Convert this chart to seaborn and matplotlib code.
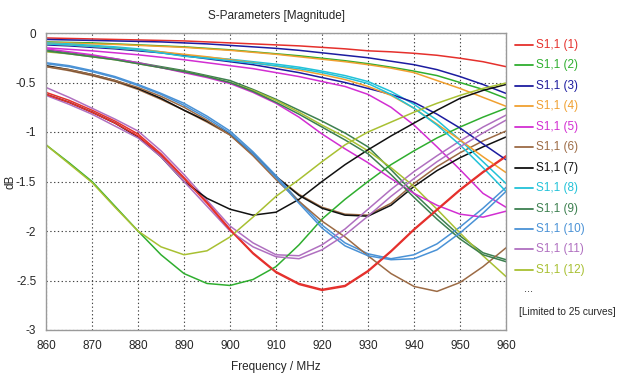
import pandas as pd
import matplotlib
matplotlib.use("Agg")
import matplotlib.pyplot as plt
from matplotlib.lines import Line2D
import seaborn as sns

# frequency grid (MHz), every 5 MHz
freq = [860, 865, 870, 875, 880, 885, 890, 895, 900, 905, 910,
        915, 920, 925, 930, 935, 940, 945, 950, 955, 960]

# |S11| in dB, one list per curve (legend order)
c01 = [-0.05, -0.055, -0.06, -0.065, -0.07, -0.075, -0.08, -0.09, -0.10, -0.11, -0.12,
       -0.13, -0.145, -0.16, -0.18, -0.19, -0.205, -0.225, -0.255, -0.29, -0.34]
c02 = [-0.09, -0.095, -0.10, -0.11, -0.12, -0.13, -0.14, -0.155, -0.17, -0.19, -0.21,
       -0.23, -0.255, -0.28, -0.31, -0.345, -0.385, -0.43, -0.50, -0.57, -0.66]
c03 = [-0.065, -0.07, -0.075, -0.08, -0.085, -0.09, -0.10, -0.11, -0.125, -0.14, -0.155,
       -0.175, -0.20, -0.225, -0.25, -0.285, -0.32, -0.37, -0.44, -0.52, -0.61]
c04 = [-0.095, -0.10, -0.11, -0.115, -0.125, -0.135, -0.145, -0.16, -0.175, -0.195, -0.215,
       -0.24, -0.265, -0.29, -0.32, -0.355, -0.40, -0.48, -0.56, -0.65, -0.74]
c05 = [-0.15, -0.165, -0.18, -0.20, -0.22, -0.245, -0.27, -0.30, -0.33, -0.36, -0.40,
       -0.44, -0.49, -0.54, -0.62, -0.75, -0.93, -1.15, -1.38, -1.62, -1.76]
c06 = [-0.34, -0.38, -0.43, -0.49, -0.57, -0.67, -0.78, -0.90, -1.03, -1.23, -1.45,
       -1.63, -1.76, -1.83, -1.84, -1.72, -1.52, -1.35, -1.21, -1.09, -0.99]
c07 = [-0.33, -0.37, -0.42, -0.48, -0.56, -0.66, -0.78, -0.89, -1.02, -1.22, -1.45,
       -1.64, -1.77, -1.84, -1.85, -1.74, -1.55, -1.39, -1.26, -1.15, -1.05]
c08 = [-0.10, -0.11, -0.125, -0.14, -0.16, -0.19, -0.225, -0.245, -0.265, -0.29, -0.315,
       -0.345, -0.385, -0.43, -0.49, -0.59, -0.72, -0.88, -1.08, -1.30, -1.52]
c09 = [-0.17, -0.20, -0.23, -0.26, -0.30, -0.34, -0.38, -0.43, -0.48, -0.57, -0.67,
       -0.78, -0.89, -1.01, -1.15, -1.38, -1.62, -1.84, -2.05, -2.22, -2.29]
c10 = [-0.30, -0.33, -0.38, -0.44, -0.52, -0.61, -0.71, -0.84, -0.99, -1.20, -1.44,
       -1.70, -1.94, -2.12, -2.23, -2.28, -2.24, -2.13, -1.96, -1.77, -1.56]
c11 = [-0.55, -0.65, -0.76, -0.87, -0.99, -1.19, -1.43, -1.69, -1.95, -2.12, -2.24,
       -2.25, -2.14, -1.98, -1.78, -1.58, -1.40, -1.24, -1.09, -0.95, -0.83]
c12 = [-0.19, -0.21, -0.24, -0.27, -0.31, -0.35, -0.39, -0.44, -0.50, -0.58, -0.68,
       -0.80, -0.93, -1.05, -1.19, -1.36, -1.55, -1.78, -2.02, -2.25, -2.46]
c13 = [-0.60, -0.68, -0.78, -0.89, -1.02, -1.22, -1.46, -1.71, -1.98, -2.22, -2.41,
       -2.53, -2.59, -2.55, -2.40, -2.20, -1.98, -1.78, -1.58, -1.40, -1.24]
c14 = [-1.13, -1.31, -1.50, -1.75, -2.00, -2.24, -2.43, -2.53, -2.55, -2.49, -2.36,
       -2.14, -1.88, -1.68, -1.50, -1.33, -1.19, -1.06, -0.95, -0.85, -0.76]
c15 = [-0.12, -0.13, -0.145, -0.16, -0.18, -0.20, -0.23, -0.26, -0.29, -0.32, -0.36,
       -0.40, -0.45, -0.50, -0.56, -0.62, -0.70, -0.82, -0.96, -1.12, -1.28]
c16 = [-0.11, -0.12, -0.135, -0.15, -0.17, -0.19, -0.215, -0.24, -0.27, -0.30, -0.335,
       -0.375, -0.42, -0.47, -0.54, -0.63, -0.76, -0.92, -1.08, -1.25, -1.41]
c17 = [-0.16, -0.19, -0.22, -0.26, -0.30, -0.35, -0.40, -0.45, -0.51, -0.60, -0.71,
       -0.85, -1.02, -1.17, -1.31, -1.47, -1.62, -1.74, -1.83, -1.86, -1.80]
c18 = [-0.34, -0.37, -0.42, -0.48, -0.55, -0.64, -0.75, -0.88, -1.03, -1.24, -1.48,
       -1.70, -1.90, -2.06, -2.25, -2.43, -2.56, -2.61, -2.52, -2.36, -2.17]
c19 = [-0.62, -0.70, -0.80, -0.91, -1.05, -1.25, -1.50, -1.67, -1.78, -1.84, -1.81,
       -1.68, -1.50, -1.33, -1.18, -1.04, -0.91, -0.78, -0.66, -0.58, -0.52]
c20 = [-0.11, -0.12, -0.135, -0.15, -0.17, -0.20, -0.235, -0.255, -0.28, -0.305, -0.33,
       -0.36, -0.40, -0.45, -0.51, -0.62, -0.76, -0.93, -1.13, -1.36, -1.60]
c21 = [-0.18, -0.21, -0.24, -0.27, -0.31, -0.35, -0.39, -0.44, -0.50, -0.59, -0.70,
       -0.82, -0.95, -1.08, -1.22, -1.43, -1.66, -1.88, -2.08, -2.24, -2.31]
c22 = [-0.31, -0.34, -0.39, -0.45, -0.53, -0.62, -0.73, -0.86, -1.01, -1.22, -1.46,
       -1.72, -1.97, -2.15, -2.25, -2.29, -2.28, -2.19, -2.02, -1.82, -1.60]
c23 = [-0.63, -0.72, -0.82, -0.94, -1.06, -1.25, -1.50, -1.75, -2.00, -2.16, -2.26,
       -2.28, -2.19, -2.04, -1.85, -1.65, -1.47, -1.30, -1.15, -1.01, -0.88]
c24 = [-1.13, -1.32, -1.51, -1.76, -2.00, -2.16, -2.24, -2.20, -2.06, -1.86, -1.65,
       -1.48, -1.30, -1.13, -1.00, -0.90, -0.80, -0.71, -0.63, -0.56, -0.505]
c25 = [-0.62, -0.70, -0.80, -0.91, -1.04, -1.23, -1.47, -1.72, -1.99, -2.23, -2.42,
       -2.54, -2.60, -2.56, -2.41, -2.21, -1.99, -1.79, -1.59, -1.41, -1.25]

curves = [c01, c02, c03, c04, c05, c06, c07, c08, c09, c10, c11, c12, c13,
          c14, c15, c16, c17, c18, c19, c20, c21, c22, c23, c24, c25]
labels = ["S1,1 (%d)" % (i + 1) for i in range(len(curves))]

# CST-like colour cycle of 12
colors12 = ["#e5302c", "#2fae2f", "#1c1ca0", "#f0a030", "#d22ed2", "#9c6b45",
            "#111111", "#22c2d8", "#3d8050", "#4a92d6", "#b070c0", "#a8c032"]
palette = {lab: colors12[i % 12] for i, lab in enumerate(labels)}

df = pd.concat([pd.DataFrame({"freq": freq, "dB": c, "curve": lab})
                for c, lab in zip(curves, labels)], ignore_index=True)

sns.set_style("white")
plt.rcParams["font.family"] = ["Liberation Sans", "DejaVu Sans"]

fig = plt.figure(figsize=(6.22, 3.78), dpi=100)
ax = fig.add_axes([46 / 622, 1 - 330 / 378, 460 / 622, 297 / 378])

sns.lineplot(data=df, x="freq", y="dB", hue="curve", hue_order=labels,
             palette=palette, linewidth=1.1, legend=False, ax=ax)

ax.set_xlim(860, 960)
ax.set_ylim(-3, 0)
ax.set_xticks(range(860, 961, 10))
ax.set_yticks([0, -0.5, -1, -1.5, -2, -2.5, -3])
ax.set_yticklabels(["0", "-0.5", "-1", "-1.5", "-2", "-2.5", "-3"])
ax.grid(True, color="#444444", linestyle=(0, (1.2, 2.2)), linewidth=0.8)
ax.tick_params(labelsize=8.5, length=3, color="#888888", pad=4)
for s in ax.spines.values():
    s.set_color("#9a9a9a")
    s.set_linewidth(1.0)

ax.set_xlabel("Frequency / MHz", fontsize=8.5, labelpad=7)
ax.set_ylabel("dB", fontsize=8.5)
ax.yaxis.set_label_coords(-29 / 460, 0.5)
ax.set_title("S-Parameters [Magnitude]", fontsize=8.5, pad=10)

# legend with the first 12 curves only, text in the curve colour
for i in range(12):
    ypx = 45 + i * 20.45
    yf = 1 - ypx / 378
    fig.add_artist(Line2D([515 / 622, 533 / 622], [yf, yf], color=colors12[i], lw=1.3))
    fig.text(536 / 622, yf, labels[i], color=colors12[i], fontsize=8.5, va="center", ha="left")
fig.text(524 / 622, 1 - 289 / 378, "...", fontsize=8, va="center", ha="left")
fig.text(519 / 622, 1 - 312 / 378, "[Limited to 25 curves]", fontsize=7.3, va="center", ha="left")

fig.savefig("out.png", dpi=100)
